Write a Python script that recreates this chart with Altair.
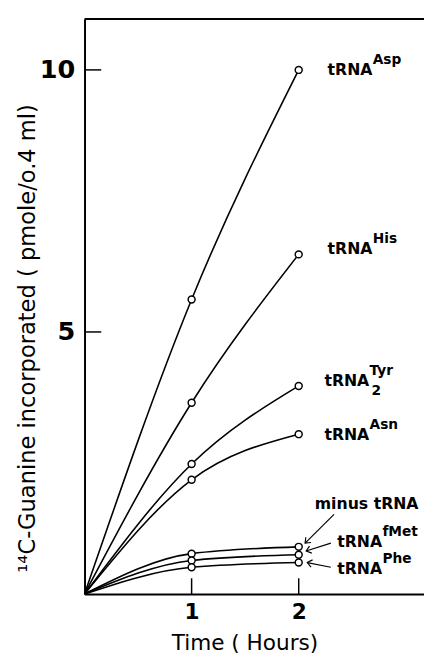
import altair as alt
import pandas as pd

# ---- data ----
times = [0, 1, 2]
series_names = ["Asp", "His", "Tyr2", "Asn", "minus", "fMet", "Phe"]
asp = [0, 5.62, 10.0]
his = [0, 3.65, 6.48]
tyr2 = [0, 2.48, 3.97]
asn = [0, 2.18, 3.05]
minus = [0, 0.77, 0.90]
fmet = [0, 0.64, 0.75]
phe = [0, 0.51, 0.60]
values = [asp, his, tyr2, asn, minus, fmet, phe]

x_ticks = [1, 2]
y_ticks = [5, 10]

# labels
lab_main = ["tRNA", "tRNA", "tRNA", "tRNA", "minus tRNA", "tRNA", "tRNA"]
lab_sup = ["Asp", "His", "Tyr", "Asn", "", "fMet", "Phe"]
lab_sub = ["", "", "2", "", "", "", ""]
lab_x = [2.27, 2.27, 2.24, 2.24, 2.15, 2.36, 2.36]
lab_y = [10.0, 6.59, 4.06, 3.03, 1.72, 0.99, 0.47]

# arrows (start -> tip)
arr_x = [2.33, 2.30, 2.30]
arr_y = [1.52, 0.97, 0.51]
arr_x2 = [2.06, 2.07, 2.08]
arr_y2 = [0.97, 0.82, 0.60]
arr_angle = [135, 162, 192]

X_MAX = 3.17
Y_MAX = 10.97
W, H = 346, 586
FONT = "DejaVu Sans"

rows = []
for name, vals in zip(series_names, values):
    for t, v in zip(times, vals):
        rows.append({"series": name, "t": t, "v": v})
df = pd.DataFrame(rows)
df_pts = df[df["t"] > 0]

xs = alt.Scale(domain=[0, X_MAX], nice=False, zero=False)
ys = alt.Scale(domain=[0, Y_MAX], nice=False)

x_axis = alt.Axis(values=x_ticks, format="d", ticks=False, grid=False, domainWidth=2,
                  domainColor="black", labelFont=FONT, labelFontSize=22, labelFontWeight="bold",
                  labelColor="black", labelPadding=8, title="Time ( Hours)", titleFont=FONT,
                  titleFontSize=22, titleFontWeight="normal", titleColor="black",
                  titlePadding=11, titleX=163)
y_axis = alt.Axis(values=y_ticks, format="d", ticks=False, grid=False, domainWidth=2,
                  domainColor="black", labelFont=FONT, labelFontSize=26, labelFontWeight="bold",
                  labelColor="black", labelPadding=10,
                  title="¹⁴C-Guanine incorporated ( pmole/o.4 ml)",
                  titleFont=FONT, titleFontSize=23, titleFontWeight="normal", titleColor="black",
                  titleAngle=270, titleX=-58, titleY=325, titleAlign="center",
                  titleBaseline="middle")

lines = alt.Chart(df).mark_line(interpolate="monotone", color="black", strokeWidth=1.6).encode(
    x=alt.X("t:Q", scale=xs, axis=x_axis),
    y=alt.Y("v:Q", scale=ys, axis=y_axis),
    detail="series:N",
)
points = alt.Chart(df_pts).mark_point(shape="circle", filled=True, fill="white", stroke="black",
                                      strokeWidth=1.5, size=50, opacity=1).encode(
    x=alt.X("t:Q", scale=xs), y=alt.Y("v:Q", scale=ys), detail="series:N")

# inward ticks
yt = alt.Chart(pd.DataFrame({"v": y_ticks})).mark_rule(color="black", strokeWidth=1.5).encode(
    y=alt.Y("v:Q", scale=ys), x=alt.datum(0, scale=xs), x2=alt.datum(0.156))
xt = alt.Chart(pd.DataFrame({"t": x_ticks})).mark_rule(color="black", strokeWidth=1.5).encode(
    x=alt.X("t:Q", scale=xs), y=alt.datum(0, scale=ys), y2=alt.datum(0.3))
top = alt.Chart(pd.DataFrame({"a": [0]})).mark_rule(color="black", strokeWidth=2).encode(
    x=alt.datum(0, scale=xs), x2=alt.datum(X_MAX), y=alt.datum(Y_MAX, scale=ys))

lab_df = pd.DataFrame({"main": lab_main, "sup": lab_sup, "sub": lab_sub, "x": lab_x, "y": lab_y})
main_txt = alt.Chart(lab_df).mark_text(align="left", baseline="middle", font=FONT, fontSize=16,
                                       fontWeight="bold", color="black").encode(
    x=alt.X("x:Q", scale=xs), y=alt.Y("y:Q", scale=ys), text="main:N")
sup_txt = alt.Chart(lab_df).mark_text(align="left", baseline="middle", font=FONT, fontSize=14,
                                      fontWeight="bold", color="black", dx=46, dy=-10).encode(
    x=alt.X("x:Q", scale=xs), y=alt.Y("y:Q", scale=ys), text="sup:N")
sub_txt = alt.Chart(lab_df).mark_text(align="left", baseline="middle", font=FONT, fontSize=14,
                                      fontWeight="bold", color="black", dx=48, dy=10).encode(
    x=alt.X("x:Q", scale=xs), y=alt.Y("y:Q", scale=ys), text="sub:N")

arr_df = pd.DataFrame({"x": arr_x, "y": arr_y, "x2": arr_x2, "y2": arr_y2, "ang": arr_angle})
arr_lines = alt.Chart(arr_df).mark_rule(color="black", strokeWidth=1.2).encode(
    x=alt.X("x:Q", scale=xs), y=alt.Y("y:Q", scale=ys), x2="x2:Q", y2="y2:Q")
arr_heads = alt.Chart(arr_df).mark_point(shape="M -1 -0.8 L 0 0 L -1 0.8", filled=False,
                                         stroke="black", strokeWidth=1.2, size=90,
                                         opacity=1).encode(
    x=alt.X("x2:Q", scale=xs), y=alt.Y("y2:Q", scale=ys),
    angle=alt.Angle("ang:Q", scale=None))

chart = alt.layer(lines, points, yt, xt, top, main_txt, sup_txt, sub_txt,
                  arr_lines, arr_heads).properties(
    width=W, height=H, autosize="none",
    padding={"left": 78, "top": 5, "right": 0, "bottom": 62},
).configure_view(stroke=None).configure(background="white")

chart.save("out.html", embed_options={"renderer": "svg", "actions": False})
